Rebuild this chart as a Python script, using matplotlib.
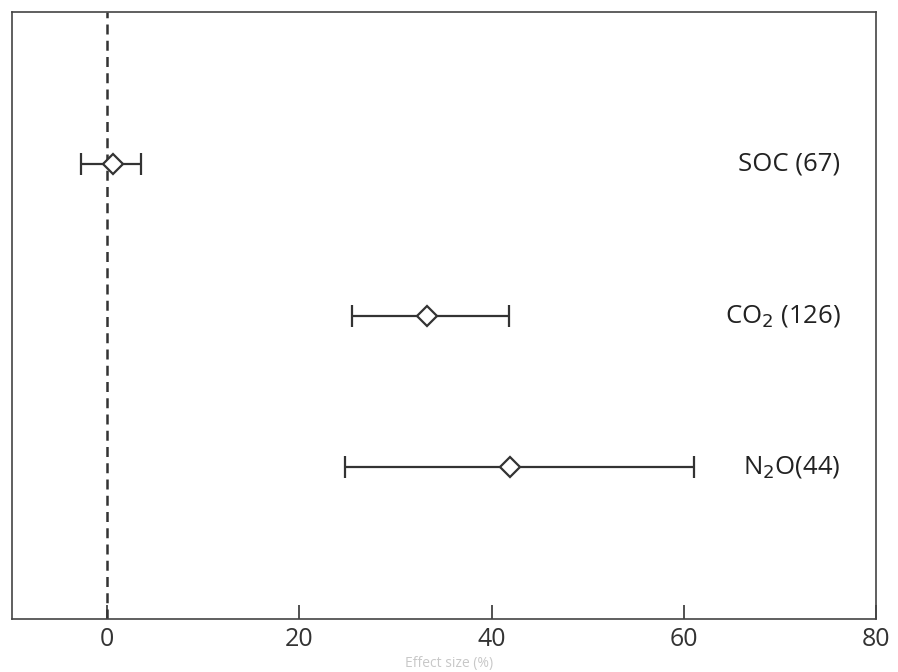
import numpy as np
import matplotlib.pyplot as plt

plt.rcParams['font.family'] = ['Open Sans', 'DejaVu Sans']

# data
labels = ['SOC (67)', 'CO$_2$ (126)', 'N$_2$O(44)']
means = np.array([0.6, 33.3, 41.9])
ci_low = np.array([-2.7, 25.5, 24.7])
ci_high = np.array([3.5, 41.8, 61.1])
ypos = np.array([3, 2, 1])

fig = plt.figure(figsize=(8.98, 6.72), dpi=100)
ax = fig.add_axes([0.0134, 0.079, 0.962, 0.903])

err = np.vstack([means - ci_low, ci_high - means])
ax.errorbar(means, ypos, xerr=err, fmt='D', color='#333333', mfc='white',
            mec='#333333', ms=10.5, mew=1.6, elinewidth=1.6, capsize=8, capthick=1.6)
ax.axvline(0, color='#333333', ls='--', lw=1.8, dashes=(4, 2.5), zorder=0)

for y, lab in zip(ypos, labels):
    ax.text(76.3, y, lab, ha='right', va='center', fontsize=18.5, color='#222222')

ax.set_xlim(-9.9, 79.65)
ax.set_ylim(0, 4)
ax.set_yticks([])
ax.set_xticks([0, 20, 40, 60, 80])
ax.tick_params(axis='x', direction='in', length=10, width=1.2, labelsize=18,
               colors='#333333', pad=6)
for s in ax.spines.values():
    s.set_linewidth(1.2)
    s.set_color('#444444')

fig.text(0.5, 0.002, 'Effect size (%)', ha='center', va='bottom', fontsize=10, color='#c8c8c8')

fig.savefig('out.png', dpi=100)
